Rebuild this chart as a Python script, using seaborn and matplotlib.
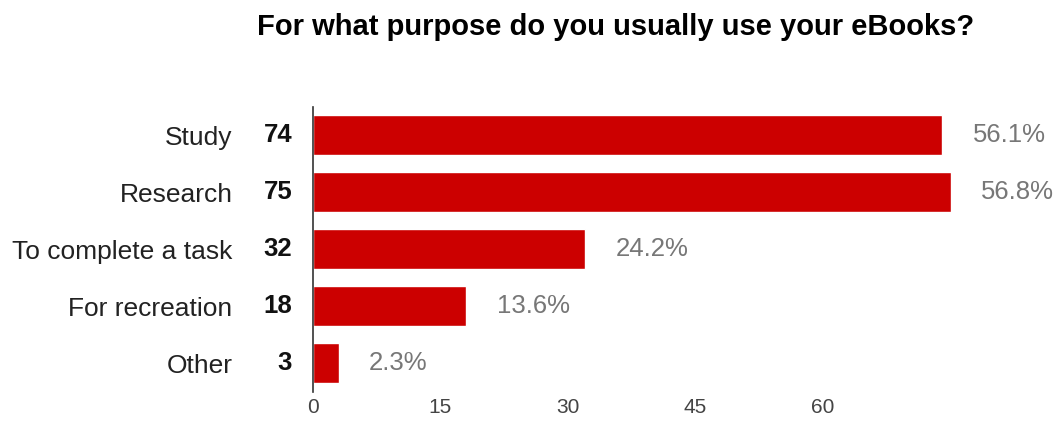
import matplotlib
matplotlib.use("Agg")
import matplotlib.pyplot as plt
import seaborn as sns
import pandas as pd

categories = ["Study", "Research", "To complete a task", "For recreation", "Other"]
counts = [74, 75, 32, 18, 3]
percents = ["56.1%", "56.8%", "24.2%", "13.6%", "2.3%"]
xticks = [0, 15, 30, 45, 60]
title = "For what purpose do you usually use your eBooks?"

sns.set_theme(style="white")
plt.rcParams["font.family"] = ["Liberation Sans", "DejaVu Sans"]

df = pd.DataFrame({"category": categories, "count": counts})

fig = plt.figure(figsize=(10.55, 4.21), dpi=100)
ax = fig.add_axes([313 / 1055, 1 - 392 / 421, (950.5 - 313) / 1055, (392 - 106.5) / 421])

sns.barplot(data=df, x="count", y="category", orient="h", color="#cc0000",
            saturation=1, width=0.70, ax=ax)

ax.set_xlim(0, 75)
ax.set_ylim(4.5, -0.5)
ax.set_xticks(xticks)
ax.set_xticklabels([str(t) for t in xticks], color="#444444", fontsize=15)
ax.set_yticks(range(len(categories)))
ax.set_yticklabels(categories, color="#222222", fontsize=19)
ax.tick_params(axis="y", length=0, pad=58)
ax.tick_params(axis="x", length=0, pad=4)
ax.set_xlabel("")
ax.set_ylabel("")
for s in ["top", "right", "bottom"]:
    ax.spines[s].set_visible(False)
ax.spines["left"].set_color("#333333")
ax.spines["left"].set_linewidth(1.2)

for i, (c, p) in enumerate(zip(counts, percents)):
    ax.annotate(str(c), xy=(0, i), xytext=(-15, 0), textcoords="offset points",
                ha="right", va="center", fontsize=18.5, fontweight="bold", color="#111111")
    ax.annotate(p, xy=(c, i), xytext=(22, 0), textcoords="offset points",
                ha="left", va="center", fontsize=18.5, color="#777777")

fig.text(616 / 1055, 1 - 27 / 421, title, ha="center", va="center",
         fontsize=21, fontweight="bold", color="#000000")

fig.savefig("out.png", dpi=100)
